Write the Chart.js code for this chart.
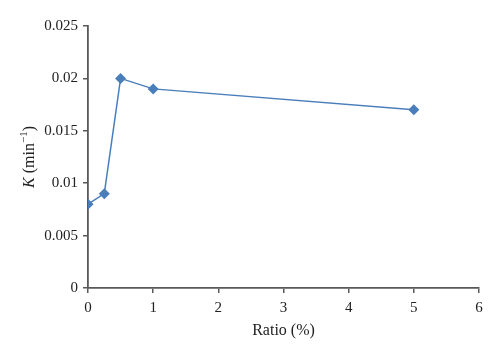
<!DOCTYPE html>
<html>
<head>
<meta charset="utf-8">
<script src="https://cdn.jsdelivr.net/npm/chart.js@4/dist/chart.umd.min.js"></script>
<style>
html,body{margin:0;padding:0;background:#fff;}
#wrap{width:500px;height:358px;}
</style>
</head>
<body>
<div id="wrap"><canvas id="c" width="500" height="358"></canvas></div>
<script>
const ratios = [0, 0.25, 0.5, 1, 5];
const kValues = [0.008, 0.009, 0.020, 0.019, 0.017];
const xTicks = [0, 1, 2, 3, 4, 5, 6];
const yTicks = [0, 0.005, 0.01, 0.015, 0.02, 0.025];
const xTitle = 'Ratio (%)';
const yTitleParts = ['K', ' (min', '\u22121', ')'];

const serif = '"Liberation Serif", "DejaVu Serif", serif';
const lineColor = '#4a7ebb';
const axisColor = '#595959';

const yTitlePlugin = {
  id: 'yTitle',
  afterDraw(chart) {
    const ctx = chart.ctx;
    const ca = chart.chartArea;
    ctx.save();
    ctx.translate(30, (ca.top + ca.bottom) / 2);
    ctx.rotate(-Math.PI / 2);
    ctx.fillStyle = '#222';
    ctx.textBaseline = 'middle';
    const fN = '16px ' + serif, fI = 'italic 16px ' + serif, fS = '11px ' + serif;
    const parts = [
      {t: yTitleParts[0], f: fI, dy: 0},
      {t: yTitleParts[1], f: fN, dy: 0},
      {t: yTitleParts[2], f: fS, dy: -6},
      {t: yTitleParts[3], f: fN, dy: 0}
    ];
    let total = 0;
    parts.forEach(p => { ctx.font = p.f; p.w = ctx.measureText(p.t).width; total += p.w; });
    let x = -total / 2;
    parts.forEach(p => { ctx.font = p.f; ctx.fillText(p.t, x, p.dy); x += p.w; });
    ctx.restore();
  }
};

new Chart(document.getElementById('c'), {
  type: 'line',
  data: {
    datasets: [{
      data: ratios.map((r, i) => ({x: r, y: kValues[i]})),
      borderColor: lineColor,
      backgroundColor: lineColor,
      borderWidth: 1.5,
      pointStyle: 'rectRot',
      pointRadius: 5.5,
      pointHoverRadius: 5.5,
      pointBorderWidth: 0,
      tension: 0
    }]
  },
  options: {
    responsive: false,
    animation: false,
    events: [],
    layout: {padding: {top: 26, right: 21, left: 0, bottom: 14}},
    plugins: {legend: {display: false}, tooltip: {enabled: false}},
    scales: {
      x: {
        type: 'linear',
        min: xTicks[0], max: xTicks[xTicks.length - 1],
        afterBuildTicks: s => { s.ticks = xTicks.map(v => ({value: v})); },
        afterFit: s => { s.height = 56; },
        border: {color: axisColor, width: 1.8},
        grid: {drawOnChartArea: false, drawTicks: true, tickLength: 5, color: axisColor, lineWidth: 1.5},
        ticks: {padding: 6, color: '#222', font: {family: serif, size: 15}, maxRotation: 0, callback: v => String(v)},
        title: {display: true, text: xTitle, color: '#222', font: {family: serif, size: 16}, padding: {top: 4, bottom: 4}}
      },
      y: {
        type: 'linear',
        min: yTicks[0], max: yTicks[yTicks.length - 1],
        afterBuildTicks: s => { s.ticks = yTicks.map(v => ({value: v})); },
        afterFit: s => { s.width = 88; },
        border: {color: axisColor, width: 1.8},
        grid: {drawOnChartArea: false, drawTicks: true, tickLength: 5, color: axisColor, lineWidth: 1.5},
        ticks: {padding: 5, color: '#222', font: {family: serif, size: 15}, callback: v => String(+v.toFixed(3))}
      }
    }
  },
  plugins: [yTitlePlugin]
});
</script>
</body>
</html>
